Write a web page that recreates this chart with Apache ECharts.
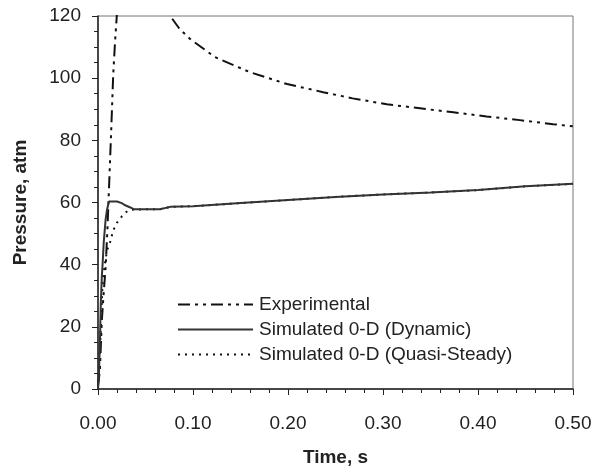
<!DOCTYPE html>
<html><head><meta charset="utf-8">
<script src="https://cdn.jsdelivr.net/npm/echarts@6/dist/echarts.min.js"></script>
<style>html,body{margin:0;padding:0;background:#fff}#c{width:597px;height:471px}</style>
</head><body><div id="c"></div>
<script>
var seriesNames = ['Experimental', 'Simulated 0-D (Dynamic)', 'Simulated 0-D (Quasi-Steady)'];
var expT = [0, 0.002, 0.004, 0.006, 0.008, 0.010, 0.012, 0.014, 0.016, 0.018, 0.020, 0.030, 0.050, 0.070, 0.076, 0.086, 0.097, 0.123, 0.160, 0.199, 0.237, 0.268, 0.304, 0.339, 0.374, 0.409, 0.444, 0.479, 0.500];
var expP = [1, 6, 22, 31, 39, 52, 68, 84, 101, 112, 121, 130, 128, 123, 120, 115.8, 112.6, 106.8, 101.9, 98.1, 95.5, 93.5, 91.6, 90.3, 89.0, 87.7, 86.5, 85.2, 84.5];
var dynT = [0, 0.001, 0.002, 0.003, 0.004, 0.005, 0.006, 0.008, 0.0095, 0.0115, 0.020, 0.025, 0.028, 0.034, 0.038, 0.065, 0.076, 0.100, 0.150, 0.200, 0.250, 0.300, 0.350, 0.400, 0.450, 0.500];
var dynP = [0, 5, 15, 28, 36, 41, 47, 54.5, 57.7, 60.3, 60.3, 59.8, 59.2, 58.4, 57.8, 57.8, 58.6, 58.8, 59.8, 60.8, 61.8, 62.6, 63.2, 64.0, 65.2, 66.0];
var qsT = [0, 0.002, 0.004, 0.005, 0.008, 0.010, 0.013, 0.016, 0.020, 0.025, 0.030, 0.035, 0.050, 0.065, 0.076, 0.100, 0.150, 0.200, 0.250, 0.300, 0.350, 0.400, 0.450, 0.500];
var qsP = [0, 12, 28, 35, 42, 45, 47.5, 51, 53.5, 55.5, 57, 57.7, 57.8, 57.8, 58.6, 58.8, 59.8, 60.8, 61.8, 62.6, 63.2, 64.0, 65.2, 66.0];
var xTicks = ['0.00', '0.10', '0.20', '0.30', '0.40', '0.50'];
var yTicks = ['0', '20', '40', '60', '80', '100', '120'];

function pairs(t, p) { return t.map(function (v, i) { return [v, p[i]]; }); }
var font = 'Liberation Sans, Arial, Helvetica, sans-serif';
var chart = echarts.init(document.getElementById('c'), null, {renderer: 'canvas'});
chart.setOption({
  animation: false,
  backgroundColor: '#fff',
  grid: {left: 98, right: 24, top: 16, bottom: 82, show: true, borderColor: '#777', borderWidth: 1,
    outerBoundsMode: 'none', containLabel: false},
  legend: {
    orient: 'vertical', left: 172, top: 290, itemWidth: 75, itemHeight: 14, itemGap: 6,
    textStyle: {fontFamily: font, fontSize: 19, color: '#222', padding: [0, 0, 0, 1]},
    itemStyle: {opacity: 0},
    data: seriesNames
  },
  xAxis: {
    type: 'value', min: 0, max: 0.5, interval: 0.1,
    name: 'Time, s', nameLocation: 'middle', nameGap: 59,
    nameTextStyle: {fontFamily: font, fontSize: 19, fontWeight: 'bold', color: '#222'},
    axisLine: {show: true, lineStyle: {color: '#222', width: 1.5}},
    axisTick: {show: true, inside: false, length: 6, lineStyle: {color: '#222'}},
    minorTick: {show: true, splitNumber: 5, length: 4, lineStyle: {color: '#222'}},
    splitLine: {show: false},
    axisLabel: {fontFamily: font, fontSize: 19, color: '#222', margin: 25,
      formatter: function (v) { return xTicks[Math.round(v * 10)]; }}
  },
  yAxis: {
    type: 'value', min: 0, max: 120, interval: 20,
    name: 'Pressure, atm', nameLocation: 'middle', nameGap: 68,
    nameTextStyle: {fontFamily: font, fontSize: 19, fontWeight: 'bold', color: '#222'},
    axisLine: {show: true, lineStyle: {color: '#222', width: 1.5}},
    axisTick: {show: true, inside: false, length: 6, lineStyle: {color: '#222'}},
    minorTick: {show: true, splitNumber: 4, length: 4, lineStyle: {color: '#222'}},
    splitLine: {show: false},
    axisLabel: {fontFamily: font, fontSize: 19, color: '#222', margin: 17,
      formatter: function (v) { return yTicks[Math.round(v / 20)]; }}
  },
  series: [
    {name: seriesNames[0], type: 'line', symbol: 'none', clip: true, data: pairs(expT, expP),
      lineStyle: {color: '#111', width: 2, type: [12, 5, 3, 5, 3, 5]}, itemStyle: {color: '#111'}},
    {name: seriesNames[2], type: 'line', symbol: 'none', clip: true, data: pairs(qsT, qsP),
      lineStyle: {color: '#111', width: 2, type: [2, 5]}, itemStyle: {color: '#111'}},
    {name: seriesNames[1], type: 'line', symbol: 'none', clip: true, data: pairs(dynT, dynP),
      lineStyle: {color: '#333', width: 2, type: 'solid'}, itemStyle: {color: '#333'}}
  ]
});
</script></body></html>
